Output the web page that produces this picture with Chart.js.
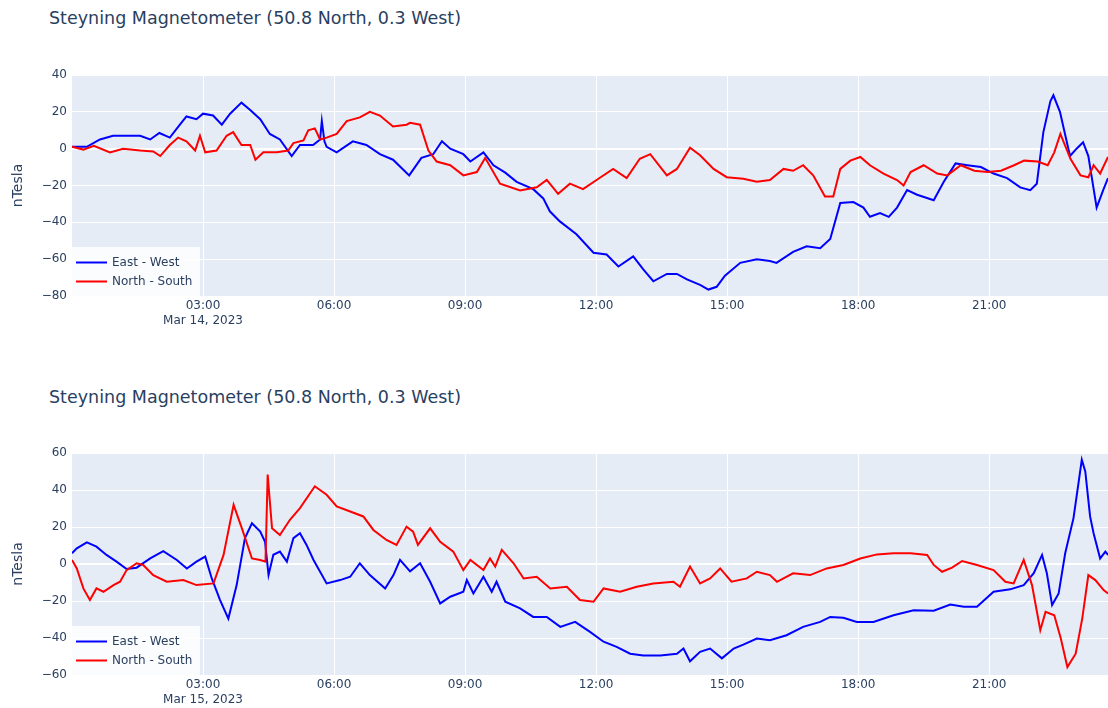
<!DOCTYPE html>
<html>
<head>
<meta charset="utf-8">
<script src="https://cdn.jsdelivr.net/npm/chart.js@4.4.1/dist/chart.umd.min.js"></script>
<style>
  body { margin: 0; background: #fff; width: 1108px; height: 708px; overflow: hidden; position: relative; font-family: "DejaVu Sans", Verdana, sans-serif; }
  .title { position: absolute; left: 49px; font-size: 17.5px; line-height: 20px; color: #2a3f5f; white-space: nowrap; }
  .box { position: absolute; left: 0; width: 1108px; }
</style>
</head>
<body>
<div class="title" style="top:8px">Steyning Magnetometer (50.8 North, 0.3 West)</div>
<div class="box" style="top:0;height:378px"><canvas id="chart14" width="1108" height="378"></canvas></div>
<div class="title" style="top:387px">Steyning Magnetometer (50.8 North, 0.3 West)</div>
<div class="box" style="top:378px;height:330px"><canvas id="chart15" width="1108" height="330"></canvas></div>

<script>
// hours after midnight, values in nT
const ewHours14 = [0, 0.34, 0.64, 0.94, 1.56, 1.79, 2.0, 2.24, 2.47, 2.62, 2.85, 3.0, 3.23, 3.43, 3.62, 3.88, 4.08, 4.31, 4.53, 4.76, 5.03, 5.22, 5.52, 5.68, 5.72, 5.78, 5.83, 6.06, 6.43, 6.74, 7.05, 7.35, 7.72, 8.0, 8.27, 8.47, 8.66, 8.96, 9.12, 9.42, 9.65, 9.92, 10.18, 10.56, 10.79, 10.94, 11.17, 11.55, 11.94, 12.24, 12.51, 12.85, 13.08, 13.31, 13.62, 13.85, 14.08, 14.38, 14.57, 14.76, 14.95, 15.3, 15.68, 15.98, 16.13, 16.51, 16.82, 17.13, 17.36, 17.59, 17.89, 18.12, 18.27, 18.5, 18.7, 18.89, 19.12, 19.35, 19.73, 19.96, 20.23, 20.5, 20.81, 21.1, 21.41, 21.71, 21.94, 22.09, 22.24, 22.4, 22.47, 22.62, 22.85, 23.0, 23.15, 23.27, 23.46, 23.61, 23.72];
const ewValues14 = [1, 1, 5, 7, 7, 5, 8.5, 6, 13, 17.5, 16, 19, 18, 13, 19, 25, 21, 16, 8, 5, -4, 2, 2, 5, 15, 4, 1, -2, 4, 2, -3, -6, -14.5, -5, -3, 4, 0, -3, -7, -2, -9, -13, -18, -22, -27, -34, -39.5, -46.5, -56.5, -57.5, -64, -58.5, -65.5, -72, -68, -68, -71, -74, -76.5, -75, -69, -62, -60, -61, -62, -56, -53, -54, -49, -29.5, -29, -32, -37, -35, -37, -32, -22.5, -25, -28, -18, -8, -9, -10, -13.5, -16, -21, -22.5, -19, 9, 25.7, 29, 20, -4, 0, 3.5, -4, -32, -22.5, -16];

const nsHours14 = [0, 0.26, 0.5, 0.87, 1.17, 1.56, 1.86, 2.02, 2.24, 2.43, 2.62, 2.82, 2.93, 3.05, 3.31, 3.54, 3.69, 3.88, 4.08, 4.2, 4.38, 4.69, 4.95, 5.07, 5.3, 5.41, 5.56, 5.68, 5.83, 6.06, 6.29, 6.59, 6.82, 7.05, 7.35, 7.66, 7.74, 7.97, 8.16, 8.35, 8.66, 8.96, 9.27, 9.46, 9.8, 10.26, 10.64, 10.87, 11.13, 11.4, 11.7, 12.01, 12.39, 12.7, 13.0, 13.24, 13.62, 13.85, 14.15, 14.38, 14.69, 14.99, 15.37, 15.68, 15.98, 16.29, 16.51, 16.74, 16.97, 17.24, 17.43, 17.59, 17.82, 18.05, 18.27, 18.58, 18.89, 19.04, 19.2, 19.5, 19.81, 20.04, 20.35, 20.66, 20.96, 21.27, 21.57, 21.8, 22.11, 22.34, 22.49, 22.63, 22.86, 23.09, 23.27, 23.39, 23.54, 23.72];
const nsValues14 = [1, -0.5, 1.5, -2, 0, -1, -1.5, -4, 2, 6, 4, -1, 7, -2, -1, 7, 9, 2, 2, -6, -2, -2, -1, 3, 4.5, 10, 11, 5, 6, 8, 15, 17, 20, 18, 12, 13, 14, 13, -1, -7, -9, -14.5, -12.7, -5, -19, -22.7, -21, -17, -24.5, -19, -22, -17, -11, -16, -5.5, -3, -14.5, -11, 0.5, -3.6, -11, -15.5, -16.3, -18, -17, -11, -12, -9, -14.5, -26, -26, -11, -6.5, -4.5, -9, -13.5, -17, -20, -12.7, -9, -13.5, -14.5, -9, -12, -12.7, -12, -9, -6.5, -7, -9, -2, 8, -5.5, -14.5, -15.5, -9, -13.5, -4.5];

const ewHours15 = [0, 0.11, 0.34, 0.56, 0.79, 1.02, 1.25, 1.48, 1.79, 2.09, 2.4, 2.63, 2.85, 3.05, 3.2, 3.39, 3.58, 3.77, 3.96, 4.12, 4.31, 4.42, 4.5, 4.61, 4.76, 4.92, 5.07, 5.22, 5.37, 5.53, 5.83, 6.14, 6.37, 6.59, 6.82, 7.17, 7.36, 7.51, 7.74, 7.97, 8.2, 8.43, 8.66, 8.96, 9.04, 9.19, 9.42, 9.61, 9.72, 9.92, 10.26, 10.56, 10.87, 11.18, 11.52, 11.86, 12.17, 12.47, 12.78, 13.08, 13.47, 13.85, 14.0, 14.15, 14.38, 14.61, 14.88, 15.15, 15.37, 15.68, 15.98, 16.36, 16.74, 17.13, 17.36, 17.66, 17.97, 18.35, 18.81, 19.27, 19.73, 20.11, 20.42, 20.72, 21.1, 21.48, 21.79, 22.02, 22.21, 22.32, 22.44, 22.59, 22.74, 22.93, 23.05, 23.12, 23.2, 23.31, 23.39, 23.54, 23.66, 23.72];
const ewValues15 = [5.8, 8.5, 11.7, 9.4, 4.9, 1.3, -2.7, -2, 3, 7, 2.2, -2.4, 1.3, 4, -7.8, -19.5, -29.5, -11.4, 14, 22, 17.5, 12, -6, 5, 6.7, 1.3, 14, 16.6, 10.3, 2.2, -10.5, -8.7, -6.9, 0.4, -6, -13.2, -6, 2.2, -4, 0.4, -9.6, -21.3, -17.7, -15, -8.7, -15.9, -6.9, -15, -9.6, -20.4, -24, -28.6, -28.6, -34, -31.3, -36.7, -42, -44.8, -48.5, -49.4, -49.4, -48.5, -45.7, -52.6, -47.5, -45.7, -51, -45.7, -43.6, -40.3, -41.2, -38.5, -34, -31.3, -28.6, -29.1, -31.3, -31.3, -27.7, -25, -25.3, -21.9, -23.1, -23.1, -15, -13.7, -11.4, -5, 4.9, -5, -22.2, -15.9, 5.8, 24.8, 44.7, 56.4, 50, 25.7, 16.6, 3, 6.7, 4.9];

const nsHours15 = [0, 0.11, 0.26, 0.41, 0.56, 0.72, 0.95, 1.1, 1.25, 1.48, 1.63, 1.86, 2.17, 2.55, 2.85, 3.24, 3.47, 3.7, 3.89, 4.12, 4.31, 4.43, 4.48, 4.58, 4.76, 4.99, 5.22, 5.56, 5.83, 6.06, 6.37, 6.67, 6.9, 7.2, 7.43, 7.66, 7.81, 7.92, 8.2, 8.43, 8.73, 8.96, 9.12, 9.42, 9.57, 9.69, 9.84, 10.11, 10.34, 10.64, 10.95, 11.33, 11.63, 11.94, 12.17, 12.55, 12.93, 13.31, 13.77, 13.92, 14.15, 14.38, 14.61, 14.84, 15.1, 15.45, 15.68, 15.98, 16.14, 16.51, 16.9, 17.28, 17.66, 18.05, 18.43, 18.81, 19.2, 19.58, 19.73, 19.92, 20.15, 20.38, 20.72, 21.1, 21.37, 21.56, 21.79, 21.98, 22.17, 22.29, 22.49, 22.64, 22.79, 22.98, 23.13, 23.27, 23.43, 23.62, 23.72];
const nsValues15 = [2.2, -2.4, -13.2, -19.5, -13.2, -15, -11.4, -9.6, -3.3, 0.4, -0.5, -6, -9.6, -8.7, -11.4, -10.5, 4.9, 32, 19.3, 3, 2.2, 1.3, 48.3, 19.3, 15.7, 23.9, 30.2, 42, 37.4, 31.1, 28.4, 25.7, 18.4, 13, 10.3, 20.2, 17.5, 10.3, 19.3, 12, 6.7, -3.3, 2.2, -3.3, 3, -1.4, 7.6, 0.4, -7.8, -6.9, -13.2, -12.3, -19.5, -20.4, -13.2, -15, -12.3, -10.5, -9.6, -12.3, -1.4, -10.5, -7.8, -2.4, -9.6, -7.8, -4.2, -6, -9.6, -5, -6, -2.4, -0.5, 3, 5.2, 5.8, 5.8, 4.9, -0.5, -4.2, -2, 1.6, -0.5, -3.3, -9.6, -10.5, 2.2, -11.4, -35.8, -25.9, -27.7, -40.3, -55.7, -48.5, -29.5, -6, -8.7, -14.1, -15.9];

const tickHours = [3, 6, 9, 12, 15, 18, 21];
const tickTimes = ["03:00", "06:00", "09:00", "12:00", "15:00", "18:00", "21:00"];
const yTicks14 = [-80, -60, -40, -20, 0, 20, 40];
const yTicks15 = [-60, -40, -20, 0, 20, 40, 60];

const textColor = "#2a3f5f";
const fontFamily = '"DejaVu Sans", Verdana, sans-serif';

const plotBackground = {
  id: "plotBackground",
  beforeDraw(chart) {
    const { ctx, chartArea } = chart;
    ctx.save();
    ctx.fillStyle = "#e5ecf6";
    ctx.fillRect(chartArea.left, chartArea.top, chartArea.right - chartArea.left, chartArea.bottom - chartArea.top);
    ctx.restore();
  }
};

// plotly style legend in the lower left corner of the plot
const insideLegend = {
  id: "insideLegend",
  afterDraw(chart) {
    const { ctx, chartArea } = chart;
    const x0 = chartArea.left;
    const y0 = chartArea.bottom - 49;
    ctx.save();
    ctx.fillStyle = "rgba(255,255,255,0.85)";
    ctx.fillRect(x0, y0, 128, 49);
    ctx.font = "12px " + fontFamily;
    ctx.textBaseline = "middle";
    chart.data.datasets.forEach((ds, i) => {
      const y = y0 + 15.5 + i * 19;
      ctx.strokeStyle = ds.borderColor;
      ctx.lineWidth = 2;
      ctx.beginPath();
      ctx.moveTo(x0 + 4, y);
      ctx.lineTo(x0 + 35, y);
      ctx.stroke();
      ctx.fillStyle = textColor;
      ctx.fillText(ds.label, x0 + 40, y);
    });
    ctx.restore();
  }
};

function toPoints(hours, values) {
  return hours.map((h, i) => ({ x: h, y: values[i] }));
}

function drawMagnetometer(canvasId, ew, ns, yTicks, dateLabel, bottomPad) {
  const ctx = document.getElementById(canvasId).getContext("2d");
  return new Chart(ctx, {
    type: "line",
    data: {
      datasets: [
        { label: "East - West", data: ew, borderColor: "rgb(0, 0, 255)", borderWidth: 2, pointRadius: 0, tension: 0, order: 1 },
        { label: "North - South", data: ns, borderColor: "rgb(255, 0, 0)", borderWidth: 2, pointRadius: 0, tension: 0, order: 0 }
      ]
    },
    options: {
      responsive: false,
      animation: false,
      layout: { padding: { top: 75, bottom: bottomPad, left: 0, right: 0 } },
      plugins: { legend: { display: false }, tooltip: { enabled: false } },
      scales: {
        x: {
          type: "linear",
          min: 0,
          max: 23.72,
          afterBuildTicks: (s) => { s.ticks = tickHours.map((v) => ({ value: v })); },
          afterFit: (s) => { s.height = 30; },
          grid: { color: "#fff", lineWidth: 1, drawTicks: false },
          border: { display: false },
          ticks: {
            autoSkip: false,
            maxRotation: 0,
            padding: 3,
            color: textColor,
            font: { family: fontFamily, size: 12 },
            callback: (v) => {
              const i = tickHours.indexOf(v);
              return i === 0 ? [tickTimes[i], dateLabel] : tickTimes[i];
            }
          }
        },
        y: {
          min: yTicks[0],
          max: yTicks[yTicks.length - 1],
          afterBuildTicks: (s) => { s.ticks = yTicks.map((v) => ({ value: v })); },
          afterFit: (s) => { s.width = 72; },
          grid: {
            color: "#fff",
            lineWidth: (c) => (c.tick && c.tick.value === 0 ? 2 : 1),
            drawTicks: false
          },
          border: { display: false },
          ticks: {
            padding: 5,
            color: textColor,
            font: { family: fontFamily, size: 12 },
            callback: (v) => (v < 0 ? "\u2212" + Math.abs(v) : String(v))
          },
          title: {
            display: true,
            text: "nTesla",
            color: textColor,
            font: { family: fontFamily, size: 14 },
            padding: { top: 10, bottom: 0 }
          }
        }
      }
    },
    plugins: [plotBackground, insideLegend]
  });
}

drawMagnetometer("chart14", toPoints(ewHours14, ewValues14), toPoints(nsHours14, nsValues14), yTicks14, "Mar 14, 2023", 52);
drawMagnetometer("chart15", toPoints(ewHours15, ewValues15), toPoints(nsHours15, nsValues15), yTicks15, "Mar 15, 2023", 3);
</script>
</body>
</html>
